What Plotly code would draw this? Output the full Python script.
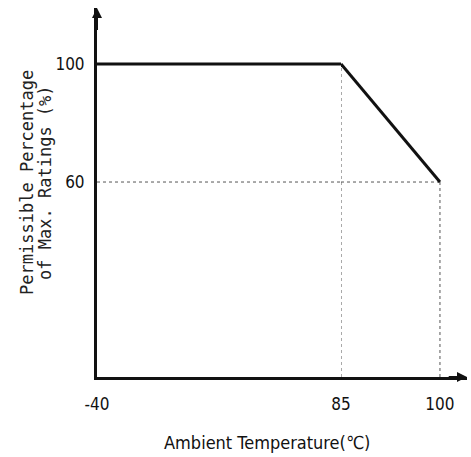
import plotly.graph_objects as go

# ---- data ----
temps_flat = [-40, 85]
pct_flat = [100, 100]
temps_derate = [85, 100]
pct_derate = [100, 60]
guide_60_left = [-40, 85]
guide_60_right = [85, 100]
guide_level = [60, 60]
y_ticks = [60, 100]
x1_ticks = [-40]
x1_labels = ["-40"]
x2_ticks = [85, 100]
x2_labels = ["85", "100"]
y_title_lines = ["Permissible Percentage", "of Max. Ratings (%)"]
x_title = "Ambient Temperature(℃)"

Y_MIN, Y_MAX = -6.1, 119.0
X1_RANGE = [-40, 85]
X2_RANGE = [85, 104.1]

BLACK = "#111111"
GUIDE = "#555555"

fig = go.Figure()

solid = dict(color=BLACK, width=3)
dotted = dict(color=GUIDE, width=1, dash="dot")

# dotted guides
fig.add_trace(go.Scatter(x=guide_60_left, y=guide_level, mode="lines", line=dotted,
                         xaxis="x", yaxis="y", hoverinfo="skip"))
fig.add_trace(go.Scatter(x=guide_60_right, y=guide_level, mode="lines", line=dotted,
                         xaxis="x2", yaxis="y", hoverinfo="skip"))
fig.add_trace(go.Scatter(x=[temps_derate[0], temps_derate[0]], y=[Y_MIN, pct_derate[0]],
                         mode="lines", line=dotted, xaxis="x2", yaxis="y", hoverinfo="skip"))
fig.add_trace(go.Scatter(x=[temps_derate[1], temps_derate[1]], y=[Y_MIN, pct_derate[1]],
                         mode="lines", line=dotted, xaxis="x2", yaxis="y", hoverinfo="skip"))

# derating curve
fig.add_trace(go.Scatter(x=temps_flat, y=pct_flat, mode="lines", line=solid,
                         xaxis="x", yaxis="y"))
fig.add_trace(go.Scatter(x=temps_derate, y=pct_derate, mode="lines", line=solid,
                         xaxis="x2", yaxis="y"))

tick_font = dict(family="Liberation Sans Narrow, DejaVu Sans Condensed, sans-serif",
                 size=17, color=BLACK)

fig.update_layout(
    width=471, height=457,
    margin=dict(l=97, r=4, t=8, b=80),
    paper_bgcolor="white", plot_bgcolor="white",
    showlegend=False,
    xaxis=dict(domain=[0, 0.6595], range=X1_RANGE, showgrid=False, zeroline=False,
               showline=True, linecolor=BLACK, linewidth=3,
               tickvals=x1_ticks, ticktext=x1_labels, ticks="", tickfont=tick_font,
               ticklabelstandoff=10, anchor="y"),
    xaxis2=dict(domain=[0.6595, 1], range=X2_RANGE, showgrid=False, zeroline=False,
                showline=True, linecolor=BLACK, linewidth=3,
                tickvals=x2_ticks, ticktext=x2_labels, ticks="", tickfont=tick_font,
                ticklabelstandoff=10, anchor="y"),
    yaxis=dict(range=[Y_MIN, Y_MAX], showgrid=False, zeroline=False,
               showline=True, linecolor=BLACK, linewidth=3,
               tickvals=y_ticks, ticks="", tickfont=tick_font, ticklabelstandoff=6),
)

# y-axis title, two rotated lines
title_font = dict(family="DejaVu Sans Mono", size=17, color="#222222")
for line_text, shift in zip(y_title_lines, [-70, -52]):
    fig.add_annotation(text=line_text, xref="paper", yref="paper",
                       x=0, y=0.526, xanchor="center", yanchor="middle",
                       xshift=shift, textangle=-90, showarrow=False, font=title_font)

# x-axis title (centered below both axes)
fig.add_annotation(text=x_title, xref="paper", yref="paper",
                   x=0.46, y=0, yanchor="middle", yshift=-65, showarrow=False,
                   font=dict(family="Liberation Sans Narrow, DejaVu Sans Condensed, sans-serif",
                             size=18, color=BLACK))

# arrowheads on axes
fig.add_annotation(x=X2_RANGE[1], y=Y_MIN, xref="x2", yref="y",
                   ax=X2_RANGE[1] - 3, ay=Y_MIN, axref="x2", ayref="y",
                   showarrow=True, arrowhead=2, arrowsize=1, arrowwidth=2,
                   arrowcolor=BLACK, text="")
fig.add_annotation(x=X1_RANGE[0], y=Y_MAX, xref="x", yref="y",
                   ax=X1_RANGE[0], ay=Y_MAX - 8, axref="x", ayref="y",
                   showarrow=True, arrowhead=2, arrowsize=1, arrowwidth=2,
                   arrowcolor=BLACK, text="")

fig.write_html("out.html", config={"displayModeBar": False},
               post_script="document.body.style.margin='0';document.body.style.overflow='hidden';")
